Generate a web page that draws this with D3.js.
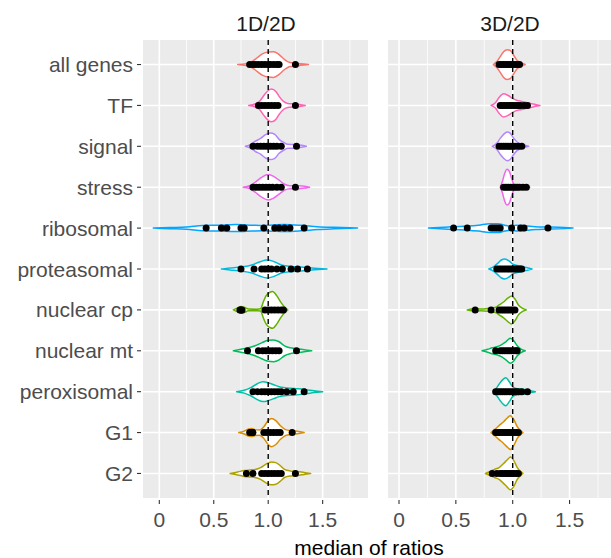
<!DOCTYPE html>
<html>
<head>
<meta charset="utf-8">
<script src="https://cdn.jsdelivr.net/npm/d3@7"></script>
<style>
  html, body { margin: 0; padding: 0; background: #fff; }
  svg { display: block; font-family: "Liberation Sans", Arial, sans-serif; }
</style>
</head>
<body>
<svg id="chart" width="611" height="558"></svg>
<script>
// Gene groups, top to bottom
const categories = ["all genes", "TF", "signal", "stress", "ribosomal", "proteasomal",
                    "nuclear cp", "nuclear mt", "peroxisomal", "G1", "G2"];
const panelTitles = ["1D/2D", "3D/2D"];
const xTicks = [0, 0.5, 1.0, 1.5];
const xTickLabels = ["0", "0.5", "1.0", "1.5"];
const xMinor = [0.25, 0.75, 1.25, 1.75];
const referenceRatio = 1;

// Density profiles [ratio, relative density] per group, 1D/2D
const density1D = [
  [[0.72,0],[0.80,0.05],[0.85,0.16],[0.90,0.38],[0.95,0.59],[1.00,0.68],[1.05,0.70],[1.10,0.54],[1.15,0.27],[1.20,0.11],[1.25,0.08],[1.30,0.04],[1.37,0]],
  [[0.82,0],[0.88,0.08],[0.92,0.22],[0.96,0.54],[1.00,0.81],[1.03,0.89],[1.07,0.76],[1.10,0.49],[1.14,0.22],[1.18,0.11],[1.25,0.08],[1.34,0]],
  [[0.79,0],[0.84,0.11],[0.88,0.27],[0.93,0.43],[0.98,0.65],[1.02,0.72],[1.06,0.65],[1.10,0.38],[1.14,0.22],[1.18,0.11],[1.25,0.10],[1.35,0]],
  [[0.77,0],[0.83,0.08],[0.88,0.27],[0.94,0.54],[1.00,0.69],[1.05,0.59],[1.10,0.38],[1.15,0.16],[1.20,0.08],[1.27,0.08],[1.38,0]],
  [[-0.055,0],[0.10,0.03],[0.25,0.06],[0.40,0.14],[0.55,0.16],[0.70,0.19],[0.85,0.16],[0.95,0.14],[1.05,0.17],[1.15,0.19],[1.30,0.15],[1.45,0.08],[1.60,0.04],[1.82,0]],
  [[0.57,0],[0.65,0.05],[0.75,0.11],[0.85,0.22],[0.92,0.38],[0.99,0.49],[1.05,0.41],[1.12,0.22],[1.20,0.14],[1.30,0.11],[1.40,0.05],[1.54,0]],
  [[0.68,0],[0.72,0.11],[0.75,0.18],[0.78,0.14],[0.82,0.05],[0.90,0.04],[0.93,0.06],[0.955,0.43],[0.98,0.76],[1.02,0.97],[1.04,1.0],[1.08,0.76],[1.12,0.38],[1.15,0.16],[1.18,0]],
  [[0.68,0],[0.75,0.08],[0.82,0.16],[0.88,0.27],[0.94,0.43],[1.00,0.57],[1.05,0.59],[1.10,0.49],[1.15,0.27],[1.20,0.16],[1.27,0.11],[1.33,0.05],[1.40,0]],
  [[0.71,0],[0.78,0.08],[0.84,0.22],[0.90,0.43],[0.95,0.54],[1.00,0.49],[1.05,0.38],[1.10,0.27],[1.15,0.22],[1.20,0.19],[1.28,0.16],[1.35,0.11],[1.42,0.05],[1.50,0]],
  [[0.73,0],[0.78,0.08],[0.82,0.19],[0.85,0.22],[0.88,0.16],[0.92,0.14],[0.96,0.32],[1.00,0.65],[1.03,0.77],[1.07,0.65],[1.11,0.38],[1.15,0.19],[1.20,0.11],[1.25,0.08],[1.33,0]],
  [[0.65,0],[0.72,0.08],[0.78,0.16],[0.83,0.19],[0.88,0.22],[0.93,0.32],[0.98,0.51],[1.03,0.62],[1.07,0.59],[1.11,0.43],[1.15,0.22],[1.20,0.14],[1.27,0.11],[1.33,0.05],[1.39,0]]
];

// Density profiles per group, 3D/2D
const density3D = [
  [[0.83,0],[0.86,0.16],[0.89,0.43],[0.92,0.70],[0.95,0.81],[0.98,0.76],[1.01,0.49],[1.04,0.22],[1.07,0.11],[1.11,0]],
  [[0.81,0],[0.85,0.16],[0.88,0.43],[0.92,0.63],[0.96,0.54],[1.00,0.38],[1.04,0.27],[1.08,0.22],[1.12,0.16],[1.16,0.11],[1.20,0.05],[1.24,0]],
  [[0.82,0],[0.86,0.16],[0.89,0.43],[0.92,0.65],[0.95,0.78],[0.98,0.70],[1.01,0.43],[1.04,0.22],[1.08,0.11],[1.14,0]],
  [[0.89,0],[0.91,0.32],[0.93,0.76],[0.95,0.97],[0.97,0.86],[0.99,0.49],[1.01,0.16],[1.04,0.08],[1.08,0.05],[1.12,0.04],[1.15,0]],
  [[0.26,0],[0.40,0.05],[0.50,0.08],[0.60,0.11],[0.70,0.16],[0.80,0.24],[0.87,0.24],[0.93,0.16],[0.98,0.11],[1.03,0.16],[1.08,0.14],[1.20,0.08],[1.30,0.06],[1.40,0.04],[1.53,0]],
  [[0.79,0],[0.83,0.11],[0.87,0.32],[0.90,0.49],[0.93,0.54],[0.97,0.43],[1.00,0.27],[1.04,0.19],[1.08,0.14],[1.12,0.08],[1.17,0]],
  [[0.60,0],[0.64,0.05],[0.67,0.08],[0.72,0.05],[0.78,0.08],[0.81,0.11],[0.85,0.14],[0.88,0.27],[0.92,0.43],[0.96,0.65],[0.99,0.76],[1.02,0.59],[1.05,0.27],[1.08,0.11],[1.12,0]],
  [[0.73,0],[0.78,0.08],[0.82,0.16],[0.86,0.22],[0.90,0.32],[0.94,0.49],[0.98,0.68],[1.01,0.54],[1.04,0.27],[1.07,0.11],[1.11,0]],
  [[0.83,0],[0.86,0.22],[0.89,0.49],[0.92,0.70],[0.94,0.76],[0.97,0.54],[1.00,0.27],[1.04,0.16],[1.08,0.14],[1.12,0.11],[1.16,0.05],[1.20,0]],
  [[0.81,0],[0.84,0.16],[0.88,0.38],[0.92,0.59],[0.95,0.78],[0.98,0.92],[1.01,0.70],[1.04,0.32],[1.06,0.16],[1.09,0]],
  [[0.76,0],[0.80,0.11],[0.84,0.22],[0.88,0.32],[0.92,0.54],[0.95,0.73],[0.98,0.89],[1.01,0.70],[1.04,0.32],[1.06,0.16],[1.09,0]]
];

// Median ratios of the individual genes, 1D/2D
const points1D = [
  [0.83,0.86,0.88,0.91,0.94,0.97,1.00,1.02,1.05,1.08,1.10,1.25],
  [0.91,0.94,0.97,1.00,1.03,1.06,1.09,1.25],
  [0.86,0.90,0.93,0.96,0.99,1.02,1.05,1.08,1.12,1.26],
  [0.86,0.89,0.92,0.95,0.98,1.01,1.04,1.08,1.12,1.25],
  [0.43,0.57,0.62,0.75,0.78,0.96,1.06,1.10,1.15,1.20,1.33],
  [0.75,0.87,0.94,0.97,1.00,1.03,1.08,1.13,1.21,1.27,1.36],
  [0.74,0.75,0.76,0.97,1.00,1.03,1.06,1.09,1.12,1.14],
  [0.81,0.91,0.95,0.98,1.01,1.04,1.07,1.10,1.26],
  [0.86,0.90,0.94,0.97,1.00,1.03,1.06,1.09,1.12,1.17,1.23,1.33],
  [0.83,0.85,0.86,0.96,0.99,1.02,1.05,1.08,1.11,1.22],
  [0.80,0.86,0.94,0.97,1.00,1.03,1.06,1.09,1.12,1.25]
];

// Median ratios of the individual genes, 3D/2D
const points3D = [
  [0.88,0.90,0.92,0.94,0.96,0.98,1.00,1.02,1.04,1.06],
  [0.89,0.91,0.93,0.95,0.97,0.99,1.01,1.03,1.05,1.07,1.10,1.13],
  [0.88,0.90,0.92,0.94,0.96,0.98,1.00,1.02,1.05,1.08],
  [0.92,0.94,0.96,0.98,1.00,1.02,1.04,1.06,1.09,1.12],
  [0.48,0.60,0.81,0.83,0.85,0.87,0.89,0.99,1.07,1.10,1.31],
  [0.86,0.88,0.90,0.92,0.94,0.96,0.98,1.00,1.02,1.04,1.06,1.08],
  [0.67,0.81,0.88,0.90,0.92,0.94,0.96,0.98,1.00,1.02],
  [0.85,0.89,0.91,0.93,0.95,0.97,0.99,1.01,1.03,1.04],
  [0.85,0.87,0.89,0.91,0.93,0.95,0.97,0.99,1.01,1.03,1.05,1.08,1.13],
  [0.85,0.87,0.89,0.91,0.93,0.95,0.97,0.99,1.01,1.03,1.05],
  [0.82,0.86,0.89,0.91,0.93,0.95,0.97,0.99,1.01,1.03,1.05]
];

// ggplot-style hue palette, assigned in factor (alphabetical) order
const factorOrder = ["all genes", "G1", "G2", "nuclear cp", "nuclear mt", "peroxisomal",
                     "proteasomal", "ribosomal", "signal", "stress", "TF"];
const palette = ["#F8766D", "#DB8E00", "#AEA200", "#64B200", "#00BD5C", "#00C1A7",
                 "#00BADE", "#00A6FF", "#B385FF", "#EF67EB", "#FF63B6"];
const color = d3.scaleOrdinal().domain(factorOrder).range(palette);

const svg = d3.select("#chart");
const panelTop = 40, panelBottom = 498;

const y = d3.scalePoint().domain(categories).range([panelTop, panelBottom]).padding(0.6);
const maxHalf = y.step() * 0.45;
const widthScale = d3.scaleLinear().domain([0, 1]).range([0, maxHalf]);

const panels = [
  { title: panelTitles[0], left: 143, right: 368, x: d3.scaleLinear().domain([0, 1]).range([159.3, 268.2]),
    density: density1D, points: points1D, titleX: 266 },
  { title: panelTitles[1], left: 388, right: 640, x: d3.scaleLinear().domain([0, 1]).range([399, 512.7]),
    density: density3D, points: points3D, titleX: 510 }
];

panels.forEach((p, pi) => {
  const g = svg.append("g");
  const clipId = "clip" + pi;
  svg.append("clipPath").attr("id", clipId)
    .append("rect").attr("x", p.left).attr("y", panelTop)
    .attr("width", p.right - p.left).attr("height", panelBottom - panelTop);

  // panel background
  g.append("rect").attr("x", p.left).attr("y", panelTop)
    .attr("width", p.right - p.left).attr("height", panelBottom - panelTop).attr("fill", "#EBEBEB");

  const grid = g.append("g").attr("clip-path", `url(#${clipId})`);
  grid.selectAll(".minor").data(xMinor).join("line")
    .attr("x1", d => p.x(d)).attr("x2", d => p.x(d)).attr("y1", panelTop).attr("y2", panelBottom)
    .attr("stroke", "#fff").attr("stroke-width", 0.8);
  grid.selectAll(".majorx").data(xTicks).join("line")
    .attr("x1", d => p.x(d)).attr("x2", d => p.x(d)).attr("y1", panelTop).attr("y2", panelBottom)
    .attr("stroke", "#fff").attr("stroke-width", 1.6);
  grid.selectAll(".majory").data(categories).join("line")
    .attr("x1", p.left).attr("x2", p.right).attr("y1", d => y(d)).attr("y2", d => y(d))
    .attr("stroke", "#fff").attr("stroke-width", 1.6);

  const plot = g.append("g").attr("clip-path", `url(#${clipId})`);

  // violins
  categories.forEach((cat, i) => {
    const cy = y(cat);
    const area = d3.area()
      .x(d => p.x(d[0]))
      .y0(d => cy - widthScale(d[1]))
      .y1(d => cy + widthScale(d[1]))
      .curve(d3.curveMonotoneX);
    plot.append("path").datum(p.density[i]).attr("d", area)
      .attr("fill", "#fff").attr("stroke", color(cat)).attr("stroke-width", 1.5)
      .attr("stroke-linejoin", "round");
  });

  // reference line at ratio 1
  plot.append("line")
    .attr("x1", p.x(referenceRatio)).attr("x2", p.x(referenceRatio))
    .attr("y1", panelTop).attr("y2", panelBottom)
    .attr("stroke", "#000").attr("stroke-width", 1.4).attr("stroke-dasharray", "5,4");

  // gene points
  categories.forEach((cat, i) => {
    plot.selectAll(null).data(p.points[i]).join("circle")
      .attr("cx", d => p.x(d)).attr("cy", y(cat)).attr("r", 3.5).attr("fill", "#000");
  });

  // x axis
  const xa = g.append("g").attr("transform", `translate(0,${panelBottom})`);
  xTicks.forEach((t, k) => {
    xa.append("line").attr("x1", p.x(t)).attr("x2", p.x(t)).attr("y1", 2).attr("y2", 6)
      .attr("stroke", "#333").attr("stroke-width", 1.1);
    xa.append("text").attr("x", p.x(t)).attr("y", 29).attr("text-anchor", "middle")
      .attr("font-size", 21).attr("fill", "#4D4D4D").text(xTickLabels[k]);
  });

  // strip title
  g.append("text").attr("x", p.titleX).attr("y", 31).attr("text-anchor", "middle")
    .attr("font-size", 21).attr("fill", "#1A1A1A").text(p.title);
});

// y axis labels and ticks
const ya = svg.append("g");
categories.forEach(cat => {
  ya.append("line").attr("x1", 137).attr("x2", 141).attr("y1", y(cat)).attr("y2", y(cat))
    .attr("stroke", "#333").attr("stroke-width", 1.1);
  ya.append("text").attr("x", 133).attr("y", y(cat)).attr("dy", "0.36em")
    .attr("text-anchor", "end").attr("font-size", 21).attr("fill", "#4D4D4D").text(cat);
});

// x axis title
svg.append("text").attr("x", 369).attr("y", 555).attr("text-anchor", "middle")
  .attr("font-size", 21).attr("fill", "#000").text("median of ratios");
</script>
</body>
</html>
